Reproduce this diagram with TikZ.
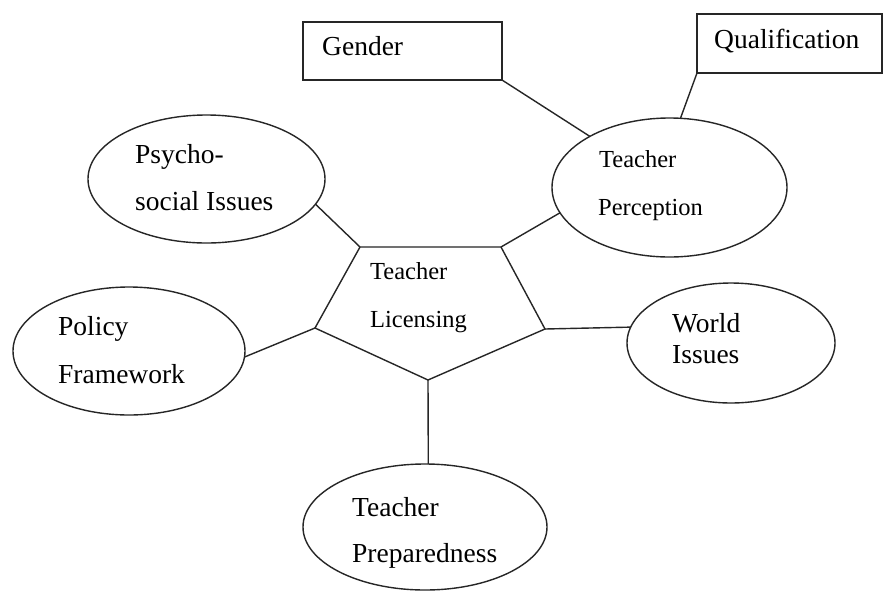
\documentclass[tikz,border=0pt]{standalone}
\usepackage{fontspec}
\setmainfont{Liberation Serif}
\usetikzlibrary{shapes.geometric}
\tikzset{
  conn/.style={draw=black!85, line width=1.4pt},
  oval/.style={ellipse, draw=black!85, line width=1.4pt, inner sep=0pt, outer sep=0pt},
  rectbox/.style={rectangle, draw=black!85, line width=1.4pt, inner sep=0pt, outer sep=0pt},
  lbl/.style={anchor=base west, inner sep=0pt, font=\fontsize{27.5}{30}\selectfont},
  lblsmall/.style={anchor=base west, inner sep=0pt, font=\fontsize{24.5}{27}\selectfont}
}
\begin{document}
\begin{tikzpicture}[x=1pt,y=-1pt]
\useasboundingbox[fill=white] (0,0) rectangle (884,590);
% boxes
\node[rectbox, minimum width=199pt, minimum height=58pt] (gender) at (402.5,51) {};
\node[rectbox, minimum width=185pt, minimum height=59pt] (qual) at (789.5,43.5) {};
% ellipses
\node[oval, minimum width=237pt, minimum height=128pt] (psy) at (206.5,179) {};
\node[oval, minimum width=235pt, minimum height=139pt] (perc) at (669.5,187.5) {};
\node[oval, minimum width=232pt, minimum height=128pt] (pol) at (129,351) {};
\node[oval, minimum width=208pt, minimum height=120pt] (world) at (731,343) {};
\node[oval, minimum width=244pt, minimum height=126pt] (prep) at (425,527) {};
% pentagon
\coordinate (p1) at (360,247);
\coordinate (p2) at (501,247);
\coordinate (p3) at (545,329);
\coordinate (p4) at (428,380);
\coordinate (p5) at (315,328);
\draw[conn, line join=miter] (p1) -- (p2) -- (p3) -- (p4) -- (p5) -- cycle;
% texts
\node[lbl] (tgender) at (322,55) {Gender};
\node[lbl] (tqual) at (714,48) {Qualification};
\node[lbl] (tpsy1) at (135,163) {Psycho-};
\node[lbl] (tpsy2) at (135,210) {social Issues};
\node[lblsmall] (tlic1) at (370,279) {Teacher};
\node[lblsmall] (tlic2) at (370,327) {Licensing};
\node[lblsmall] (tperc1) at (599,167) {Teacher};
\node[lblsmall] (tperc2) at (598,215) {Perception};
\node[lbl] (tpol1) at (58,335) {Policy};
\node[lbl] (tpol2) at (58,383) {Framework};
\node[lbl] (tworld1) at (672,332) {World};
\node[lbl] (tworld2) at (672,363) {Issues};
\node[lbl] (tprep1) at (352,516) {Teacher};
\node[lbl] (tprep2) at (352,562) {Preparedness};
% connectors
\draw[conn] (gender.south east) -- (perc);
\draw[conn] (qual.south west) -- (perc.81);
\draw[conn] (psy.-13) -- (p1);
\draw[conn] (perc.193) -- (p2);
\draw[conn] (pol.-3) -- (p5);
\draw[conn] (world.171) -- (p3);
\draw[conn] (p4) -- (prep.87);
\end{tikzpicture}
\end{document}
